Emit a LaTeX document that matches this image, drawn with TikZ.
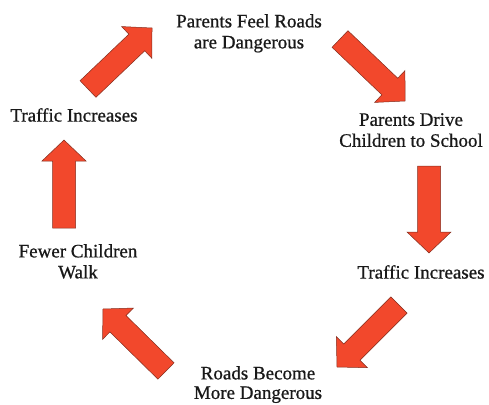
\documentclass[tikz,border=0pt]{standalone}
\usepackage{fontspec}
\setmainfont{Liberation Serif}[BoldFont={Liberation Serif}, BoldFeatures={FakeBold=0.8}]
\usetikzlibrary{calc}
\definecolor{arrowred}{RGB}{242,72,44}
\definecolor{arrowedge}{RGB}{130,45,30}
\definecolor{txt}{RGB}{25,25,25}
\tikzset{
  lbl/.style={font=\fontsize{19}{21}\selectfont\bfseries, align=center, inner sep=0pt, anchor=north, text=txt},
  blockarrowstyle/.style={fill=arrowred, draw=arrowedge, line width=0.5pt, line join=miter}
}
\newcommand{\blockarrow}[2]{%
  \coordinate (#1-hb) at ($(#2)!21pt!(#1)$);
  \filldraw[blockarrowstyle] ($(#1)!11.5pt!90:(#2)$) -- ($(#1-hb)!11.5pt!90:(#2)$) -- ($(#1-hb)!22pt!90:(#2)$) -- (#2) -- ($(#1-hb)!22pt!-90:(#2)$) -- ($(#1-hb)!11.5pt!-90:(#2)$) -- ($(#1)!11.5pt!-90:(#2)$) -- cycle;}
\begin{document}
\begin{tikzpicture}[x=1pt,y=-1pt]
\useasboundingbox (0,0) rectangle (489,404);
% labels
\node[lbl] (parentsfeel) at (249,14) {Parents Feel Roads\\are Dangerous};
\node[lbl] (parentsdrive) at (411,113) {Parents Drive\\Children to School};
\node[lbl] (trafficright) at (421,265) {Traffic Increases};
\node[lbl, font=\fontsize{19}{19.5}\selectfont\bfseries] (roadsbecome) at (258,366) {Roads Become\\More Dangerous};
\node[lbl] (fewer) at (78,244) {Fewer Children\\Walk};
\node[lbl] (trafficleft) at (74,108) {Traffic Increases};
% arrow end points
\coordinate (aT) at (340,39);  \coordinate (aH) at (405,101);
\coordinate (bT) at (429,166); \coordinate (bH) at (429,253);
\coordinate (cT) at (399,305); \coordinate (cH) at (337,367);
\coordinate (dT) at (166,371); \coordinate (dH) at (103,309);
\coordinate (eT) at (64,228);  \coordinate (eH) at (64,140);
\coordinate (fT) at (88,89);   \coordinate (fH) at (152,28);
\blockarrow{aT}{aH}
\blockarrow{bT}{bH}
\blockarrow{cT}{cH}
\blockarrow{dT}{dH}
\blockarrow{eT}{eH}
\blockarrow{fT}{fH}
\end{tikzpicture}
\end{document}
